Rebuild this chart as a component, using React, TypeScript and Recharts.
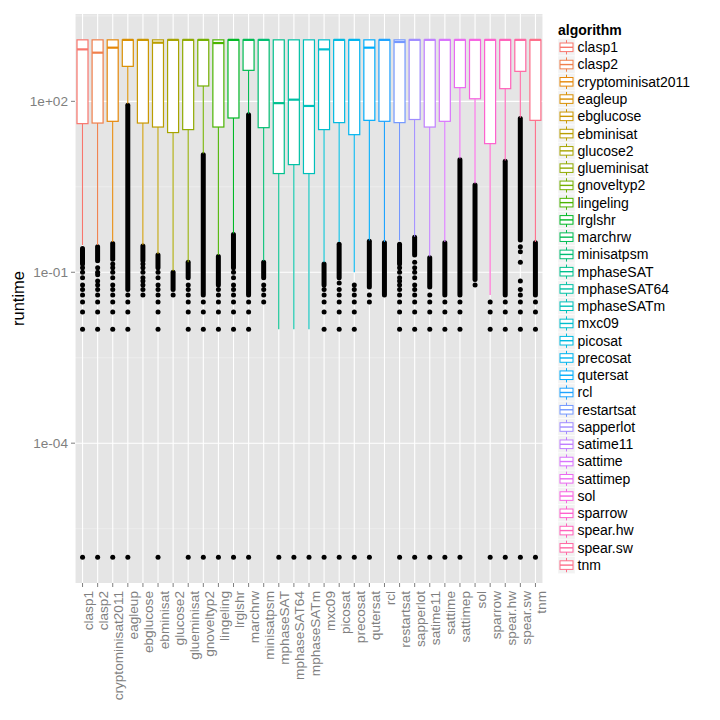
import React from "react"
import { ComposedChart, Bar, Scatter, XAxis, YAxis, CartesianGrid, Label } from "recharts"

const algorithms = [
  "clasp1", "clasp2", "cryptominisat2011", "eagleup", "ebglucose", "ebminisat", "glucose2",
  "glueminisat", "gnoveltyp2", "lingeling", "lrglshr", "marchrw", "minisatpsm", "mphaseSAT",
  "mphaseSAT64", "mphaseSATm", "mxc09", "picosat", "precosat", "qutersat", "rcl", "restartsat",
  "sapperlot", "satime11", "sattime", "sattimep", "sol", "sparrow", "spear.hw", "spear.sw", "tnm",
]

const q1 = [40.6, 41.6, 44.6, 411, 41.6, 35.4, 28.3, 31.9, 186, 35.4, 51, 350, 34.5, 5.4, 7.75, 5.4,
  31.9, 42.3, 26, 46.4, 44.6, 42.3, 48, 35.4, 44.6, 174, 111, 18.1, 167, 336, 46.4]
const medians = [817, 715, 875, 1200, 1200, 1070, 1200, 1200, 1200, 1055, 1200, 1200, 1200, 93, 107, 83,
  817, 1200, 1200, 875, 1200, 1100, 1200, 1200, 1200, 1200, 1200, 1200, 1200, 1200, 1200]
const q3 = [1200, 1200, 1200, 1200, 1200, 1200, 1200, 1200, 1200, 1200, 1200, 1200, 1200, 1200, 1200, 1200,
  1200, 1200, 1200, 1200, 1200, 1200, 1200, 1200, 1200, 1200, 1200, 1200, 1200, 1200, 1200]
const whiskerLow = [0.3, 0.3, 0.34, 91, 0.3, 0.21, 0.105, 0.15, 12.1, 0.2, 0.48, 60.8, 0.16, 0.01, 0.01, 0.01,
  0.15, 0.34, 0.1, 0.36, 0.34, 0.36, 0.42, 0.19, 0.34, 9.9, 3.6, 0.04, 9.2, 51.7, 0.34]
const whiskerHigh = [1200, 1200, 1200, 1200, 1200, 1200, 1200, 1200, 1200, 1200, 1200, 1200, 1200, 1200, 1200, 1200,
  1200, 1200, 1200, 1200, 1200, 1200, 1200, 1200, 1200, 1200, 1200, 1200, 1200, 1200, 1200]

// stretches where the outlier dots are packed into a solid column
const denseLow = [0.14, 0.16, 0.17, 0.05, 0.16, 0.12, 0.05, 0.08, 0.04, 0.06, 0.12, 0.04, 0.08, null, null, null,
  0.06, 0.08, null, 0.055, 0.04, 0.14, 0.2, 0.055, 0.04, 0.04, 0.075, null, 0.04, 0.37, 0.04]
const denseHigh = [0.26, 0.28, 0.32, 85, 0.29, 0.2, 0.1, 0.15, 11.5, 0.19, 0.46, 58, 0.15, null, null, null,
  0.14, 0.31, null, 0.35, 0.33, 0.31, 0.41, 0.18, 0.33, 9.4, 3.4, null, 8.9, 50, 0.33]

// separate outlier dots
const outliers: number[][] = [
  [1e-6, 0.01, 0.02, 0.03, 0.04, 0.05, 0.06, 0.08, 0.1, 0.12],
  [1e-6, 0.01, 0.02, 0.03, 0.04, 0.05, 0.06, 0.07, 0.09, 0.1, 0.12],
  [1e-6, 0.01, 0.02, 0.03, 0.04, 0.05, 0.06, 0.08, 0.1, 0.12, 0.14],
  [1e-6, 0.01, 0.02, 0.03, 0.04],
  [0.04, 0.05, 0.06, 0.07, 0.08, 0.1, 0.12, 0.14],
  [1e-6, 0.01, 0.02, 0.03, 0.04, 0.05, 0.06, 0.08, 0.1],
  [0.04],
  [1e-6, 0.01, 0.02, 0.03, 0.04, 0.05, 0.06],
  [1e-6, 0.01, 0.02, 0.03],
  [1e-6, 0.01, 0.02, 0.03, 0.04, 0.05],
  [1e-6, 0.01, 0.02, 0.03, 0.04, 0.05, 0.06, 0.08, 0.1],
  [1e-6, 0.01, 0.02, 0.03],
  [0.03, 0.04, 0.05, 0.06],
  [1e-6],
  [1e-6],
  [1e-6],
  [1e-6, 0.01, 0.02, 0.03, 0.04, 0.05],
  [1e-6, 0.01, 0.02, 0.03, 0.04, 0.05, 0.065],
  [1e-6, 0.01, 0.02, 0.03, 0.04, 0.05, 0.06],
  [1e-6, 0.03, 0.04],
  [],
  [1e-6, 0.01, 0.02, 0.03, 0.04, 0.05, 0.06, 0.07, 0.08, 0.1, 0.12],
  [1e-6, 0.01, 0.02, 0.03, 0.04, 0.05, 0.06, 0.08, 0.1, 0.12, 0.15],
  [1e-6, 0.01, 0.02, 0.03, 0.04],
  [1e-6, 0.01, 0.02, 0.03],
  [1e-6, 0.01, 0.02, 0.03],
  [0.06],
  [1e-6, 0.01, 0.02, 0.03],
  [1e-6, 0.01, 0.02, 0.03],
  [1e-6, 0.01, 0.02, 0.03, 0.04, 0.05, 0.07, 0.15, 0.23, 0.28],
  [1e-6, 0.01, 0.02, 0.03],
]

const yTicks = [1e-4, 1e-1, 1e2]
const yMinorTicks = [10 ** -5.5, 10 ** -2.5, 10 ** 0.5, 10 ** 3.5]
const yDomain = [10 ** -6.454, 10 ** 3.533]

const FONT = '"Liberation Sans", Arial, Helvetica, sans-serif'
const BOX_W = 11

// ggplot2 default hue palette (hcl, c = 100, l = 65)
function hcl(h: number, c: number, l: number) {
  const WX = 95.047, WY = 100, WZ = 108.883
  const rad = (h * Math.PI) / 180
  const u = c * Math.cos(rad)
  const v = c * Math.sin(rad)
  const Y = WY * (l > 7.999592 ? Math.pow((l + 16) / 116, 3) : l / 903.3)
  const t = WX + WY + WZ
  const xn = WX / t, yn = WY / t
  const uN = (2 * xn) / (6 * yn - xn + 1.5)
  const vN = (4.5 * yn) / (6 * yn - xn + 1.5)
  const U = u / (13 * l) + uN
  const V = v / (13 * l) + vN
  const X = (9 * Y * U) / (4 * V)
  const Z = -X / 3 - 5 * Y + (3 * Y) / V
  const g = (a: number) => (a > 0.00304 ? 1.055 * Math.pow(a, 1 / 2.4) - 0.055 : 12.92 * a)
  const r = g((3.240479 * X - 1.53715 * Y - 0.498535 * Z) / WY)
  const gg = g((-0.969256 * X + 1.875992 * Y + 0.041556 * Z) / WY)
  const b = g((0.055648 * X - 0.204043 * Y + 1.057311 * Z) / WY)
  const hex = (a: number) => Math.round(Math.min(1, Math.max(0, a)) * 255).toString(16).padStart(2, "0")
  return `#${hex(r)}${hex(gg)}${hex(b)}`
}

const colors = algorithms.map((_, i) => hcl(15 + (i * 360) / algorithms.length, 100, 65))
const maxOutliers = Math.max(...outliers.map(o => o.length))

const data = algorithms.map((name, i) => {
  const row: any = {
    name,
    color: colors[i],
    whisker: [whiskerLow[i], whiskerHigh[i]],
    box: [q1[i], q3[i]],
    median: medians[i],
    dense: denseLow[i] != null ? [denseLow[i], denseHigh[i]] : null,
  }
  outliers[i].forEach((v, k) => { row[`o${k}`] = v })
  return row
})

const fmtExp = (v: number) => {
  const [m, e] = v.toExponential(0).split("e")
  const sign = e.startsWith("-") ? "-" : "+"
  return `${m}e${sign}${e.replace(/[+-]/, "").padStart(2, "0")}`
}

const WhiskerShape = (props: any) => {
  const { x, y, width, height, payload } = props
  const cx = x + width / 2
  return <line x1={cx} x2={cx} y1={y} y2={y + height} stroke={payload.color} strokeWidth={1.1} />
}

const BoxShape = (props: any) => {
  const { x, y, width, height, payload } = props
  return <rect x={x} y={y} width={width} height={height} fill="#ffffff" stroke={payload.color} strokeWidth={1.2} />
}

const DenseShape = (props: any) => {
  const { x, y, width, height, payload } = props
  if (!payload.dense || !Number.isFinite(y) || !Number.isFinite(height)) return <g />
  const cx = x + width / 2
  return <rect x={cx - 2.5} y={y - 2.5} width={5} height={height + 5} rx={2.5} fill="#000000" />
}

const MedianShape = (props: any) => {
  const { cx, cy, payload } = props
  if (!Number.isFinite(cy)) return <g />
  return <line x1={cx - BOX_W / 2} x2={cx + BOX_W / 2} y1={cy} y2={cy} stroke={payload.color} strokeWidth={2.2} />
}

const DotShape = (props: any) => {
  const { cx, cy } = props
  if (!Number.isFinite(cx) || !Number.isFinite(cy)) return <g />
  return <circle cx={cx} cy={cy} r={2.5} fill="#000000" />
}

const XTick = (props: any) => {
  const { x, y, payload } = props
  return (
    <text x={x} y={y} transform={`rotate(-90 ${x} ${y})`} textAnchor="end" dy={10.5}
      fill="#7F7F7F" fontSize={13.6} fontFamily={FONT}>
      {payload.value}
    </text>
  )
}

const YTitle = (props: any) => {
  const { viewBox } = props
  const cx = viewBox.x + 18
  const cy = viewBox.y + viewBox.height / 2
  return (
    <text x={cx} y={cy} transform={`rotate(-90 ${cx} ${cy})`} textAnchor="middle" dy="0.35em"
      fill="#000000" fontSize={16.5} fontFamily={FONT}>
      runtime
    </text>
  )
}

function LegendBox() {
  const step = 17.26
  const first = 47.3
  return (
    <svg width={170} height={600} style={{ position: "absolute", left: 550, top: 0, fontFamily: FONT }}>
      <text x={8} y={30} dy="0.35em" fontSize={14} fontWeight="bold" fill="#000000">algorithm</text>
      {algorithms.map((name, i) => {
        const cy = first + i * step
        const top = cy - step / 2
        return (
          <g key={name}>
            <rect x={8} y={top} width={17} height={step} fill="#F2F2F2" stroke="#ffffff" strokeWidth={0.5} />
            <line x1={16.5} x2={16.5} y1={top + 1.5} y2={top + step - 1.5} stroke={colors[i]} strokeWidth={1} />
            <rect x={10} y={cy - 4.3} width={13} height={8.6} fill="#ffffff" stroke={colors[i]} strokeWidth={1} />
            <line x1={10} x2={23} y1={cy} y2={cy} stroke={colors[i]} strokeWidth={1.4} />
            <text x={27.5} y={cy} dy="0.35em" fontSize={14} fill="#000000">{name}</text>
          </g>
        )
      })}
    </svg>
  )
}

export default function App() {
  return (
    <div style={{ position: "absolute", left: 0, top: 0, width: 720, height: 720, background: "#ffffff" }}>
      <ComposedChart
        width={720}
        height={720}
        data={data}
        margin={{ top: 14, right: 177, bottom: 0, left: 0 }}
        barSize={BOX_W}
        barGap={-BOX_W}
        style={{ fontFamily: FONT }}
      >
        <CartesianGrid horizontalValues={yMinorTicks} vertical={false} stroke="#F2F2F2" strokeWidth={0.6} fill="#E5E5E5" />
        <CartesianGrid horizontalValues={yTicks} stroke="#FFFFFF" strokeWidth={1.1} />
        <XAxis
          dataKey="name"
          type="category"
          interval={0}
          height={137}
          tick={<XTick />}
          tickSize={4}
          tickMargin={4}
          tickLine={{ stroke: "#7F7F7F" }}
          axisLine={false}
        />
        <YAxis
          scale="log"
          type="number"
          domain={yDomain}
          allowDataOverflow
          ticks={yTicks}
          tickFormatter={fmtExp}
          width={75}
          tickSize={4}
          tickMargin={3}
          axisLine={false}
          tickLine={{ stroke: "#7F7F7F" }}
          tick={{ fill: "#7F7F7F", fontSize: 13.6 }}
        >
          <Label content={<YTitle />} />
        </YAxis>
        <Bar dataKey="dense" shape={<DenseShape />} isAnimationActive={false} />
        <Bar dataKey="whisker" shape={<WhiskerShape />} isAnimationActive={false} />
        <Bar dataKey="box" shape={<BoxShape />} isAnimationActive={false} />
        {Array.from({ length: maxOutliers }, (_, k) => (
          <Scatter key={k} dataKey={`o${k}`} shape={<DotShape />} isAnimationActive={false} />
        ))}
        <Scatter dataKey="median" shape={<MedianShape />} isAnimationActive={false} />
      </ComposedChart>
      <LegendBox />
    </div>
  )
}
